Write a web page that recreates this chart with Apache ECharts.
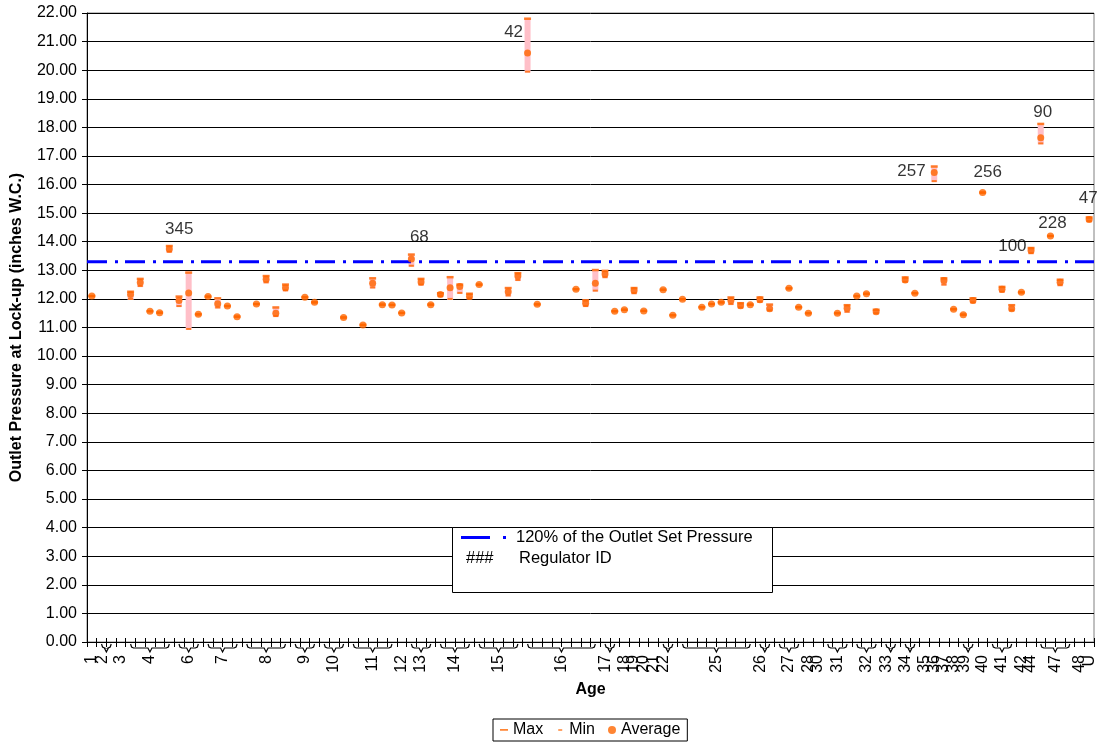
<!DOCTYPE html>
<html>
<head>
<meta charset="utf-8">
<script src="https://cdn.jsdelivr.net/npm/echarts@6/dist/echarts.min.js"></script>
<style>html,body{margin:0;padding:0;background:#fff;}#c{width:1100px;height:744px;}</style>
</head>
<body>
<div id="c"></div>
<script>
// ---------- DATA ----------
const categoryCount = 104;
// category index of each regulator point
const pointIndex = [0,4,5,6,7,8,9,10,11,12,13,14,15,17,18,19,20,22,23,26,28,29,30,31,32,33,34,35,36,37,38,39,40,43,44,45,46,50,51,52,53,54,55,56,57,59,60,61,63,64,65,66,67,68,69,70,72,73,74,77,78,79,80,81,84,85,87,88,89,90,91,92,94,95,96,97,98,99,100,103];
const avgValues = [12.10,12.15,12.57,11.57,11.52,13.75,11.94,12.21,11.46,12.08,11.83,11.75,11.38,11.82,12.69,11.50,12.39,12.06,11.88,11.35,11.09,12.55,11.80,11.79,11.51,13.40,12.59,11.80,12.15,12.39,12.43,12.08,12.50,12.25,12.80,20.60,11.81,12.34,11.85,12.55,12.87,11.57,11.62,12.29,11.58,12.32,11.43,11.99,11.71,11.82,11.88,11.94,11.76,11.80,11.97,11.66,12.37,11.71,11.50,11.50,11.67,12.10,12.18,11.55,12.66,12.20,16.42,12.64,11.64,11.45,11.94,15.72,12.34,11.66,12.23,13.69,17.64,14.20,12.58,14.78];
const maxValues = [12.10,12.25,12.70,11.57,11.52,13.85,12.08,12.92,11.46,12.08,12.02,11.75,11.38,11.82,12.80,11.70,12.50,12.06,11.88,11.35,11.09,12.72,11.80,11.79,11.51,13.55,12.70,11.80,12.20,12.76,12.50,12.18,12.50,12.38,12.90,21.80,11.81,12.34,11.95,13.01,12.98,11.57,11.62,12.38,11.58,12.32,11.43,11.99,11.71,11.82,11.88,12.05,11.85,11.80,12.05,11.80,12.37,11.71,11.50,11.50,11.78,12.10,12.18,11.62,12.75,12.20,16.63,12.72,11.64,11.45,12.02,15.72,12.42,11.78,12.23,13.78,18.12,14.20,12.67,14.85];
const minValues = [12.10,12.00,12.45,11.57,11.52,13.65,11.75,10.95,11.46,12.08,11.70,11.75,11.38,11.82,12.58,11.40,12.30,12.06,11.88,11.35,11.09,12.40,11.80,11.79,11.51,13.16,12.50,11.80,12.10,12.00,12.21,12.02,12.50,12.12,12.66,19.95,11.81,12.34,11.75,12.29,12.76,11.57,11.62,12.20,11.58,12.32,11.43,11.99,11.71,11.82,11.88,11.82,11.70,11.80,11.90,11.60,12.37,11.71,11.50,11.50,11.55,12.10,12.18,11.50,12.60,12.20,16.12,12.50,11.64,11.45,11.88,15.72,12.25,11.60,12.23,13.60,17.44,14.20,12.48,14.72];
// regulator ID labels
const labelIndex = [8,33,45,87,92,97,98,99,103];
const labelText  = ['345','68','42','257','256','100','90','228','47'];
// age groups: label, first category, last category
const ageLabels = ['1','2','3','4','6','7','8','9','10','11','12','13','14','15','16','17','18','19','20','21','22','25','26','27','28','30','31','32','33','34','35','36','37','38','39','40','41','42','44','47','48','U'];
const ageStart  = [0,1,3,4,9,12,16,21,24,27,32,33,36,40,45,53,55,56,57,58,59,61,69,71,74,75,76,79,82,84,86,87,88,89,90,92,93,96,97,98,102,103];
const ageEnd    = [0,2,3,8,11,15,20,23,26,31,32,35,39,44,52,54,55,56,57,58,60,68,70,73,74,75,78,81,83,85,86,87,88,89,91,92,95,96,97,101,102,103];
const setPressure120 = 13.3;
const yMin = 0, yMax = 22, yStep = 1;

// ---------- CHART ----------
const FONT = 'Liberation Sans, Arial, sans-serif';
const ORANGE = '#FF6600';
const labelStyle = {
  0: {position: 'top', offset: [10, -2]},
  1: {position: 'top', offset: [8, -3]},
  2: {position: 'left', offset: [4, 14]},
  3: {position: 'left', offset: [0, 5]},
  4: {position: 'top', offset: [5, -5]},
  5: {position: 'left', offset: [4, -2]},
  6: {position: 'top', offset: [2, 3]},
  7: {position: 'top', offset: [2, 2]},
  8: {position: 'top', offset: [-1, -4]}
};
const maxData = pointIndex.map((c, i) => {
  const item = {value: [c + 0.5, maxValues[i]]};
  const li = labelIndex.indexOf(c);
  if (li >= 0) {
    item.label = Object.assign({show: true, formatter: labelText[li], color: '#000', fontSize: 17, fontFamily: FONT, distance: 5}, labelStyle[li]);
  }
  return item;
});
const minData = pointIndex.map((c, i) => [c + 0.5, minValues[i]]);
const avgData = pointIndex.map((c, i) => [c + 0.5, avgValues[i]]);
const hlData = pointIndex.map((c, i) => [c + 0.5, minValues[i], maxValues[i]]);
const groupData = ageLabels.map((l, i) => [ageStart[i], ageEnd[i], i]);

const boxIcon = inner => 'path://M0,0h0.1v0.1h-0.1z ' + inner + ' M99.9,99.9h0.1v0.1h-0.1z';

const chart = echarts.init(document.getElementById('c'), null, {renderer: 'canvas'});
chart.setOption({
  animation: false,
  backgroundColor: '#fff',
  textStyle: {fontFamily: FONT},
  grid: {left: 87, right: 6, top: 13, bottom: 102, show: true, borderColor: '#808080', borderWidth: 1},
  xAxis: [{
    type: 'value', min: 0, max: categoryCount, interval: 1, position: 'bottom',
    axisLine: {lineStyle: {color: '#000', width: 1}},
    axisTick: {show: true, length: 5, inside: false, lineStyle: {color: '#000'}},
    axisLabel: {show: false},
    splitLine: {show: false},
    name: 'Age', nameLocation: 'middle', nameGap: 40,
    nameTextStyle: {fontWeight: 'bold', fontSize: 16, color: '#000', fontFamily: FONT}
  }, {
    type: 'value', min: 0, max: categoryCount, interval: 1, position: 'bottom', offset: 0,
    axisLine: {show: false},
    axisTick: {show: true, length: 4, inside: true, lineStyle: {color: '#000'}},
    axisLabel: {show: false},
    splitLine: {show: false}
  }],
  yAxis: {
    type: 'value', min: yMin, max: yMax, interval: yStep,
    axisLine: {show: true, lineStyle: {color: '#000'}},
    axisTick: {show: true, length: 5, lineStyle: {color: '#000'}},
    axisLabel: {formatter: v => v.toFixed(2), fontSize: 16, color: '#000', fontFamily: FONT, margin: 10},
    splitLine: {lineStyle: {color: '#000', width: 1}},
    name: 'Outlet Pressure at Lock-up (inches W.C.)', nameLocation: 'middle', nameGap: 62,
    nameTextStyle: {fontWeight: 'bold', fontSize: 16, color: '#000', fontFamily: FONT}
  },
  legend: {
    bottom: 3, left: 493,
    data: [
      {name: 'Max', icon: boxIcon('M0,38h100v22h-100z')},
      {name: 'Min', icon: boxIcon('M25,40h50v20h-50z')},
      {name: 'Average', icon: 'circle'}
    ],
    itemWidth: 8, itemHeight: 8, itemGap: 13,
    borderColor: '#000', borderWidth: 1, padding: [3, 7], borderRadius: 0,
    textStyle: {fontSize: 16, color: '#000', fontFamily: FONT}, selectedMode: false
  },
  graphic: [
    {type: 'rect', left: 452, top: 527, z: 5, shape: {width: 320, height: 65}, style: {fill: '#fff', stroke: '#000', lineWidth: 1}},
    {type: 'line', z: 6, shape: {x1: 461, y1: 537.5, x2: 490, y2: 537.5}, style: {stroke: '#0000FF', lineWidth: 3}},
    {type: 'rect', z: 6, shape: {x: 503, y: 536, width: 3, height: 3}, style: {fill: '#0000FF'}},
    {type: 'text', z: 6, x: 516, y: 537.5, style: {text: '120% of the Outlet Set Pressure', verticalAlign: 'middle', font: '16.5px ' + FONT, fill: '#000'}},
    {type: 'text', z: 6, x: 466, y: 558, style: {text: '###', verticalAlign: 'middle', font: '16.5px ' + FONT, fill: '#000'}},
    {type: 'text', z: 6, x: 519, y: 558, style: {text: 'Regulator ID', verticalAlign: 'middle', font: '16.5px ' + FONT, fill: '#000'}}
  ],
  series: [
    {
      name: 'HighLow', type: 'custom', silent: true, z: 2,
      data: hlData,
      renderItem: (params, api) => {
        const p1 = api.coord([api.value(0), api.value(1)]);
        const p2 = api.coord([api.value(0), api.value(2)]);
        return {type: 'rect', shape: {x: p1[0] - 3, y: p2[1] - 1, width: 6, height: Math.max(2, p1[1] - p2[1] + 2)}, style: {fill: '#FFBFC8'}};
      }
    },
    {
      name: '120% of the Outlet Set Pressure', type: 'line', symbol: 'none', z: 3,
      data: [[0, setPressure120], [categoryCount, setPressure120]],
      lineStyle: {color: '#0000FF', width: 3, type: [20, 8, 3, 7]},
      itemStyle: {color: '#0000FF'}
    },
    {name: 'Max', type: 'scatter', symbol: 'rect', symbolSize: [7, 2.5], z: 4, data: maxData, itemStyle: {color: ORANGE}},
    {name: 'Min', type: 'scatter', symbol: 'rect', symbolSize: [5, 2], z: 4, data: minData, itemStyle: {color: ORANGE}},
    {name: 'Average', type: 'scatter', symbol: 'circle', symbolSize: 7, z: 5, data: avgData, itemStyle: {color: ORANGE}},
    {
      name: 'AgeAxis', type: 'custom', silent: true, clip: false, z: 6,
      data: groupData,
      renderItem: (params, api) => {
        const a = api.value(0), b = api.value(1), i = api.value(2);
        const pa = api.coord([a + 0.5, 0]);   // centre of first category
        const pb = api.coord([b + 0.5, 0]);   // centre of last category
        const cx = (pa[0] + pb[0]) / 2;
        const y0 = pa[1];
        const children = [];
        if (b > a) {
          const xa = pa[0], xb = pb[0];
          children.push({type: 'polyline', shape: {points: [[xa, y0 + 2], [xa + 1, y0 + 5], [xa + 3, y0 + 6], [cx - 2, y0 + 6], [cx, y0 + 10], [cx + 2, y0 + 6], [xb - 3, y0 + 6], [xb - 1, y0 + 5], [xb, y0 + 2]]}, style: {stroke: '#000', fill: null, lineWidth: 1.2}});
        }
        const lx = cx - (b - a === 1 ? 4 : 0);
        children.push({type: 'text', x: lx, y: y0 + 13, rotation: Math.PI / 2, style: {text: ageLabels[i], align: 'right', verticalAlign: 'middle', font: '16px ' + FONT, fill: '#000'}});
        return {type: 'group', children: children};
      }
    }
  ]
});
</script>
</body>
</html>
